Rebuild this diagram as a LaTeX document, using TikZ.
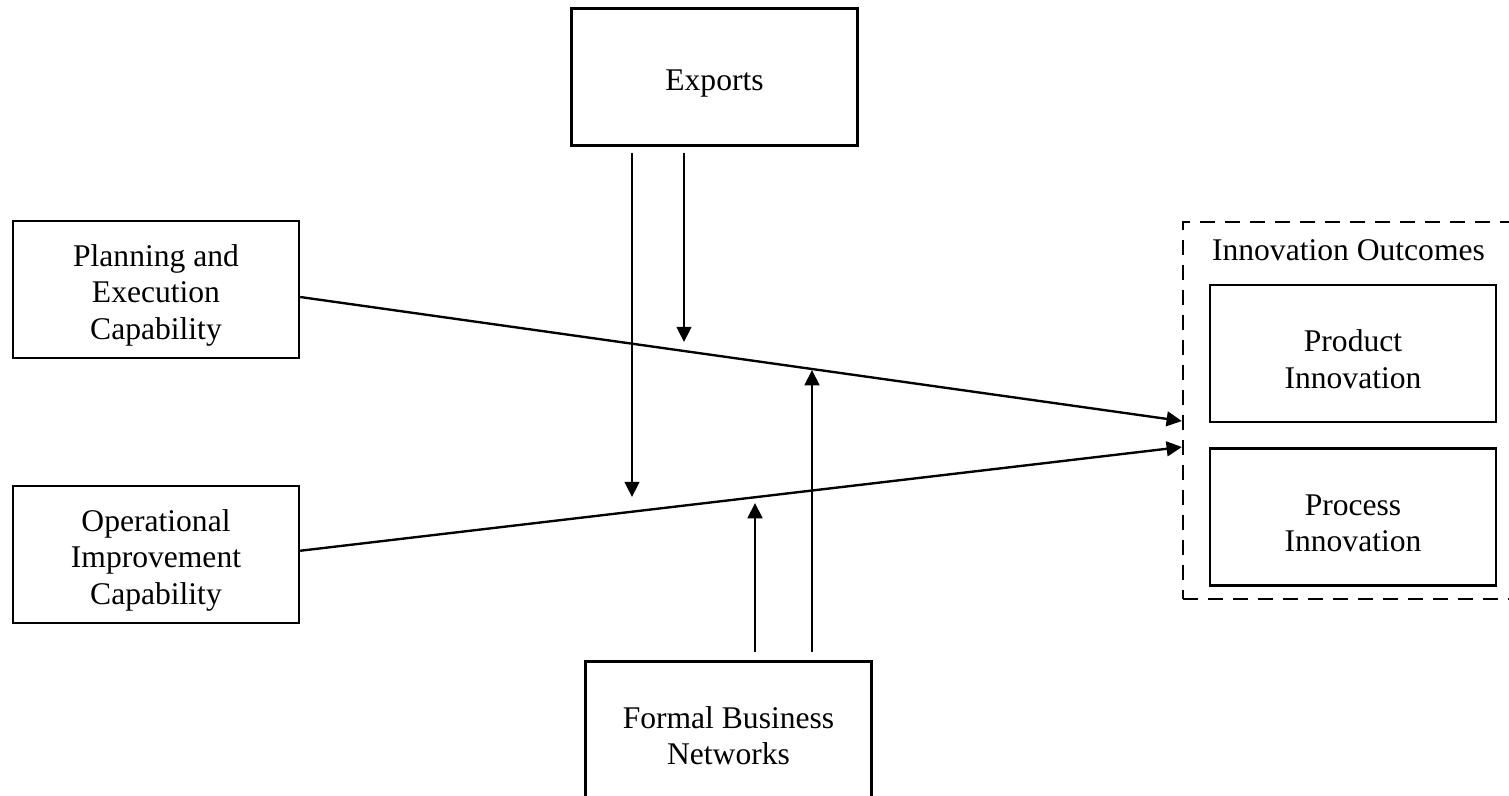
\documentclass[tikz,border=0pt]{standalone}
\usepackage{fontspec}
\setmainfont{Liberation Serif}
\usetikzlibrary{arrows.meta,positioning,calc}
\newcommand{\lup}{\rule{0pt}{12.7pt}}

\begin{document}
\begin{tikzpicture}[x=0.38pt, y=-0.38pt, line width=0.9pt,
    >={Triangle[length=5.8pt,width=5.6pt]},
    font=\fontsize{12}{13.9}\selectfont,
    varbox/.style={draw, align=center, minimum width=38.2mm, minimum height=18.3mm}]
  \useasboundingbox (0,0) rectangle (1509,795);
  \clip (0,0) rectangle (1509,795);
  % capabilities
  \node[varbox] (plan) at (156,289.5) {\lup Planning and\\Execution\\Capability};
  \node[varbox, below=16.8mm of plan] (oper) {\lup Operational\\Improvement\\Capability};
  % moderators
  \node[varbox] (exp) at (714.5,77) {\lup Exports};
  \node[varbox] (fbn) at (728.5,730) {\lup Formal Business\\Networks};
  % outcomes
  \node[draw, dashed, dash pattern=on 5.7pt off 3.8pt, minimum width=45.4mm, minimum height=50.4mm] (outc) at (1353,410.5) {};
  \node[varbox] (prod) at (1353,353.5) {\lup Product\\Innovation};
  \node[varbox, below=3.2mm of prod] (proc) {\lup Process\\Innovation};
  \node[anchor=base west, inner sep=0pt] (outlbl) at ([xshift=0.8pt, yshift=3.1mm]prod.north west) {Innovation Outcomes};
  \coordinate (in1) at ($(outc.west)+(0,10.5)$);
  \coordinate (in2) at ($(outc.west)+(0,36.5)$);
  \draw[->] ([yshift=-2.85pt]plan.east) -- (in1);
  \draw[->] ([yshift=1.5pt]oper.east) -- (in2);
  % moderating arrows
  \coordinate (m1) at (632,497);
  \coordinate (m2) at (684,342);
  \coordinate (m3) at (755,503);
  \coordinate (m4) at (812,370);
  \draw[->] ($(exp.south)+(-82.5,6)$) -- (m1);
  \draw[->] ($(exp.south)+(-30.5,6)$) -- (m2);
  \draw[->] ($(fbn.north)+(26.5,-8)$) -- (m3);
  \draw[->] ($(fbn.north)+(83.5,-8)$) -- (m4);
\end{tikzpicture}
\end{document}
